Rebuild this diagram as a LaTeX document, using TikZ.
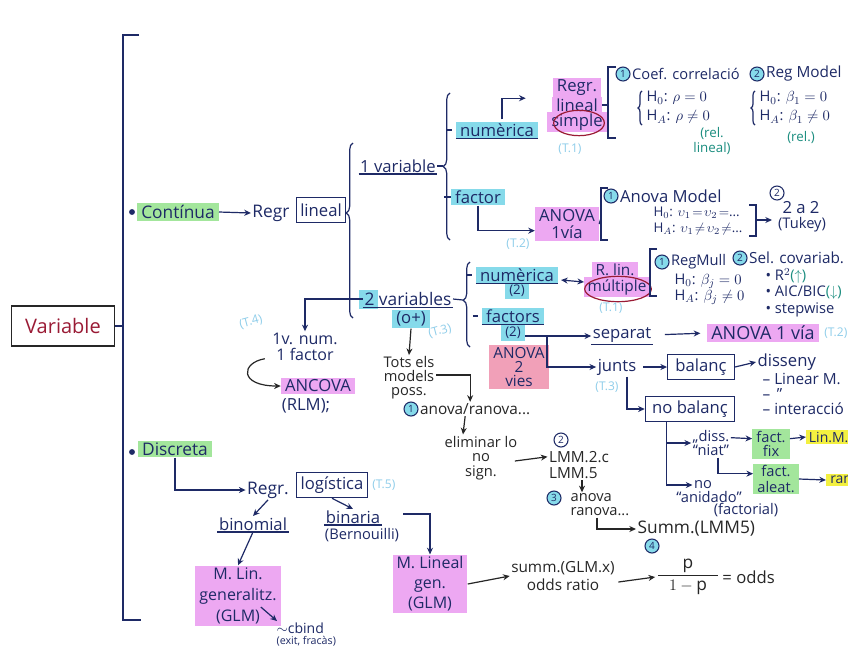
\documentclass[tikz,border=0pt]{standalone}
\usepackage{fontspec}
\setmainfont{Open Sans}
\usetikzlibrary{arrows.meta,shapes.geometric,calc,decorations.pathreplacing}
\definecolor{ink}{HTML}{1E2A66}
\definecolor{hlgreen}{HTML}{A3E69C}
\definecolor{hlcyan}{HTML}{86DAEA}
\definecolor{hlpink}{HTML}{EDA8F2}
\definecolor{hlred}{HTML}{F1A0B8}
\definecolor{hlyellow}{HTML}{F3F040}
\definecolor{tcyan}{HTML}{8ECDEA}
\definecolor{tealtx}{HTML}{1C8E80}
\definecolor{dred}{HTML}{9A1B35}
\tikzset{
  tx/.style={inner sep=1pt, text=ink, font=\fontsize{12.5}{13}\selectfont, align=center},
  tm/.style={tx, font=\fontsize{11}{12}\selectfont},
  tk/.style={text=black!85},
  tref/.style={inner sep=0pt, text=tcyan, font=\fontsize{9}{10}\selectfont},
  trel/.style={inner sep=0pt, text=tealtx, font=\fontsize{10}{11}\selectfont, align=center},
  ln/.style={draw=ink, line width=0.9pt},
  ar/.style={ln, -{Stealth[length=5pt,width=4.5pt]}},
  arb/.style={ar, draw=black!85},
  dar/.style={ln, {Stealth[length=5pt,width=4.5pt]}-{Stealth[length=5pt,width=4.5pt]}},
  boxed/.style={tx, draw=ink, line width=0.9pt, inner sep=3pt},
  hg/.style={fill=hlgreen, inner xsep=3pt, inner ysep=1.5pt},
  hc/.style={fill=hlcyan, inner xsep=3pt, inner ysep=1.5pt},
  hp/.style={fill=hlpink, inner xsep=3pt, inner ysep=1.5pt},
  hr/.style={fill=hlred, inner xsep=3pt, inner ysep=1.5pt},
  hy/.style={fill=hlyellow, inner xsep=3pt, inner ysep=1.5pt},
  ul/.style={append after command={(\tikzlastnode.south west) edge[draw=ink, line width=0.8pt] (\tikzlastnode.south east)}},
  num/.style={circle, draw=ink, line width=0.8pt, inner sep=0pt, minimum size=10.5pt, text=ink, font=\fontsize{7.5}{8}\selectfont},
  numc/.style={num, fill=hlcyan},
  brc/.style={ln, decorate, decoration={brace, amplitude=5pt}},
  oval/.style={ellipse, draw=dred, line width=0.9pt, inner sep=0pt},
}
\begin{document}
\begin{tikzpicture}[x=0.75pt,y=-0.75pt]
\fill[white] (0,0) rectangle (848,651);
\useasboundingbox (0,0) rectangle (848,651);

% ---------- root ----------
\coordinate (mtop) at (123,35);
\coordinate (mbot) at (123,620);
\draw[ln, line width=1.1pt] (139,35) -- (mtop) -- (mbot) -- (141,620);
\node[draw=black!85, line width=1pt, text=dred, font=\fontsize{15}{16}\selectfont, minimum width=77pt, minimum height=30pt] (var) at (63,326) {Variable};
\draw[ln] (var.east) -- (var.east -| mtop);

% ---------- Continua ----------
\fill[ink] (132,212) circle (2.2pt);
\node[tx, hg, font=\fontsize{13}{14}\selectfont] (cont) at (178,212) {Contínua};
\node[tx, font=\fontsize{13}{14}\selectfont] (regr) at (271,213) {Regr};
\node[boxed, minimum width=36pt, minimum height=19pt] (lineal) at (321,210) {lineal};
\draw[ar] (cont.east) -- (regr.west);
\draw[brc, decoration={aspect=0.6}] (353,318) -- (353,143);

% 1 variable
\node[tx, ul] (v1) at (398,166) {1 variable};
\draw[brc] (450,240) -- (450,93);
\coordinate (b2tip) at (443,166);
\draw[ln] (v1.east) -- (b2tip);

\node[tx, hc, ul] (n1) at (497,130) {numèrica};
\draw[ln] ($(n1.west)+(-9,0)$) -- ($(n1.west)+(-4,0)$);
\node[tx, hp] (rls1) at (577,88) {Regr.};
\node[tx, hp] (rls2) at (577,105) {lineal};
\node[tx, hp] (rls3) at (577,122) {simple};
\node[oval, minimum width=38pt, minimum height=19pt] (rlsc) at (579,123) {};
\draw[ar] ($(n1.north)+(5,-2)$) |- ($(rls1.south west)+(-27,0)$);
\node[tref] (t1a) at (570,149) {(T.1)};

\draw[ln] (616,67) -- (608,67) -- (608,138) -- (616,138);
\coordinate (k1) at (608,105);
\draw[ln] (rls2.east) -- (k1);
\node[numc] (c1n) at (623,74) {1};
\node[tm, anchor=west] (c1) at (c1n.east) {Coef. correlació};
\node[numc] (c2n) at (757,74) {2};
\node[tm, anchor=west, font=\fontsize{11.5}{12}\selectfont] (c2) at (c2n.east) {Reg Model};

\draw[brc, decoration={amplitude=3pt}] (642,125) -- (642,91);
\node[tm, anchor=west] (h10) at (645,98) {H$_0$: $\rho=0$};
\node[tm, anchor=west] (h1a) at (645,117) {H$_A$: $\rho\neq0$};
\node[trel] (rel1) at (712,141) {(rel.\\lineal)};
\draw[brc, decoration={amplitude=3pt}] (755,125) -- (755,91);
\node[tm, anchor=west] (h20) at (758,98) {H$_0$: $\beta_1=0$};
\node[tm, anchor=west] (h2a) at (758,117) {H$_A$: $\beta_1\neq0$};
\node[trel] (rel2) at (801,137) {(rel.)};

\node[tx, hc] (fac) at (478,197) {factor};
\draw[ln] ($(fac.west)+(-7,0)$) -- (fac.west);
\node[tx, hp, font=\fontsize{12.5}{13}\selectfont] (an1) at (567,224) {ANOVA\\1vía};
\draw[ar] (fac.south) |- ([yshift=-5pt]an1.west);
\node[tref] (t2a) at (518,244) {(T.2)};

\draw[ln] (608,188) -- (601,188) -- (601,240) -- (608,240);
\coordinate (k2) at (601,218);
\draw[ln] (an1.east) -- (k2);
\node[numc] (a1n) at (611,196) {1};
\node[tx, anchor=west] (am) at (a1n.east) {Anova Model};
\node[tm, anchor=west, font=\fontsize{10}{11}\selectfont] (ah0) at (652,213) {H$_0$: $\upsilon_1\!=\!\upsilon_2\!=$...};
\node[tm, anchor=west, font=\fontsize{10}{11}\selectfont] (aha) at (652,229) {H$_A$: $\upsilon_1\!\neq\!\upsilon_2\!\neq$...};
\draw[ln] (749,205) -- (756,205) -- (756,236) -- (749,236);
\coordinate (k2r) at (756,220);
\draw[ar] (k2r) -- ($(k2r)+(16,0)$);
\node[num] (tn) at (777,193) {2};
\node[tx] (tk1) at (801,208) {2 a 2};
\node[tm] (tk2) at (802,225) {(Tukey)};

% 2 variables
\fill[hlcyan] (359,290) rectangle (378,309);
\node[tx, ul, font=\fontsize{13}{14}\selectfont] (v2) at (408,299) {2 variables};
\node[tx, hc] (op) at (411,319) {(o+)};
\node[tref, rotate=15] (t3a) at (440,331) {(T.3)};
\node[tx, font=\fontsize{12}{12.5}\selectfont] (vf) at (305,347) {1v. num.\\1 factor};
\node[tref, rotate=15] (t4) at (251,322) {(T.4)};
\draw[ar] (v2.west) -| (vf.north);
\node[tx, hp] (anc) at (318,386) {ANCOVA};
\node[tx] (rlm) at (306,406) {(RLM);};
\draw[arb] ($(vf.south west)+(-6,-4)$) .. controls ($(vf.south west)+(-30,0)$) and ($(anc.west)+(-42,0)$) .. (anc.west);

\node[tx, tk, font=\fontsize{11}{10.5}\selectfont] (tots) at (409,378) {Tots els\\models\\poss.};
\draw[arb] (op.south) -- (tots.north);
\node[numc] (a0n) at (411,409) {1};
\node[tx, tk, anchor=west, font=\fontsize{11.5}{12}\selectfont] (an0) at (a0n.east) {anova/ranova...};
\draw[arb] ($(tots.east)+(0,-3)$) -| ($(an0.north)+(-5,0)$);
\node[tx, tk, font=\fontsize{11}{11}\selectfont] (elim) at (481,458) {eliminar lo\\no\\sign.};
\draw[arb] ($(an0.south)+(-10,0)$) -- ($(elim.north)+(-18,0)$);
\node[tx, tk, align=left, font=\fontsize{11.5}{12}\selectfont] (lmm) at (579,465) {LMM.2.c\\LMM.5};
\node[num] (lmmn) at (561,440) {2};
\draw[arb] ($(elim.east)+(-4,3)$) -- ($(lmm.north west)+(0,7)$);
\node[tx, tk, align=left, anchor=west, font=\fontsize{11}{10.5}\selectfont] (an3) at (569,505) {anova\\ranova...};
\node[numc] (a3n) at (554,498) {3};
\draw[arb] ($(lmm.south)+(3,0)$) -- ($(an3.north west)+(13,0)$);
\node[tx, tk, anchor=west, font=\fontsize{13}{14}\selectfont] (summ) at (636,529) {Summ.(LMM5)};
\draw[arb] ($(an3.south west)+(28,0)$) |- (summ.west);
\node[numc] (a4n) at (652,546) {4};

\draw[brc, decoration={aspect=0.55}] (470,347) -- (470,262);
\coordinate (b3tip) at (463,300);
\draw[ln] (v2.east) -- (b3tip);

\node[tx, hc, font=\fontsize{10}{11}\selectfont] (n2b) at (517,291) {(2)};
\node[tx, hc, ul] (n2) at (517,275) {numèrica};
\draw[ln] ($(n2.west)+(-9,0)$) -- ($(n2.west)+(-4,0)$);
\node[tx, hp, font=\fontsize{11.5}{12}\selectfont] (rlm1) at (615,270) {R. lin.};
\node[tx, hp, font=\fontsize{11.5}{12}\selectfont] (rlm2) at (617,287) {múltiple};
\node[oval, minimum width=50pt, minimum height=19pt] (rlmc) at (618,289) {};
\draw[dar] ($(n2.east)+(3,5)$) -- ($(rlmc.west)+(0,-7)$);
\node[tref] (t1b) at (611,308) {(T.1)};
\draw[ln] (657,249) -- (650,249) -- (650,296) -- (657,296);
\node[numc] (r1n) at (662,262) {1};
\node[tm, anchor=west] (rm) at (r1n.east) {RegMull};
\node[tm, anchor=west] (rh0) at (673,281) {H$_0$: $\beta_j=0$};
\node[tm, anchor=west] (rha) at (673,297) {H$_A$: $\beta_j\neq0$};
\node[numc] (s2n) at (740,258) {2};
\node[tm, anchor=west, font=\fontsize{11.5}{12}\selectfont] (sel) at (s2n.east) {Sel. covariab.};
\node[tm, anchor=west] (r2) at (764,276) {• R$^2$\textcolor{tealtx}{($\uparrow$)}};
\node[tm, anchor=west] (aic) at (764,293) {• AIC/BIC\textcolor{tealtx}{($\downarrow$)}};
\node[tm, anchor=west] (stw) at (764,310) {• stepwise};

\node[tx, hc, font=\fontsize{10}{11}\selectfont] (n3b) at (513,333) {(2)};
\node[tx, hc, ul] (n3) at (513,316) {factors};
\draw[ln] ($(n3.west)+(-9,0)$) -- ($(n3.west)+(-4,0)$);
\node[tx, hr, font=\fontsize{11.5}{10.5}\selectfont] (an2) at (519,367) {ANOVA\\2\\vies};
\node[tx, ul] (sep) at (622,335) {separat};
\draw[ar] ($(n3b.east)+(0,3)$) -- ($(sep.west)+(0,1)$);
\coordinate (fj) at ($(n3b.east)+(22,3)$);
\node[tx] (junts) at (617,367) {junts};
\draw[ar] (fj) |- (junts.west);
\node[tref] (t3b) at (607,387) {(T.3)};
\node[tx, hp, font=\fontsize{13.5}{14}\selectfont] (av) at (763,333) {ANOVA 1 vía};
\node[tref, anchor=west] (t2b) at (824,333) {(T.2)};
\draw[ar, shorten <=9pt, shorten >=5pt] (sep.east) -- (av.west);
\node[boxed, minimum width=50pt, minimum height=19pt] (bal) at (701,367) {balanç};
\draw[ar, shorten <=4pt] (junts.east) -- (bal.west);
\node[tx, anchor=west] (dis) at (756,362) {disseny};
\draw[ar] (bal.east) -- (dis.west);
\node[tx, anchor=north west, align=left, font=\fontsize{11.5}{11.25}\selectfont] (dl) at (761,372) {– Linear M.\\– \,''\\– interacció};
\node[boxed, minimum width=67pt, minimum height=19pt] (nb) at (690,409) {no balanç};
\draw[ar] ($(junts.south)+(10,0)$) |- (nb.west);

\node[tm, font=\fontsize{11}{11}\selectfont] (diss) at (711,443) {„diss.\\“niat”};
\node[tm, font=\fontsize{11}{11}\selectfont] (no1) at (703,485) {no};
\node[tm, font=\fontsize{11}{11}\selectfont] (no2) at (709,497) {“anidado”};
\node[tm, font=\fontsize{11}{11}\selectfont] (no3) at (746,510) {(factorial)};
\draw[ar] ($(nb.south west)+(22,0)$) |- (diss.west);
\draw[ar] ($(nb.south west)+(22,0)$) |- (no1.west);
\node[tx, hg, font=\fontsize{11}{11}\selectfont] (ffix) at (771,444) {fact.\\fix};
\draw[ar] ([yshift=4pt]diss.east) -- ([yshift=4pt]ffix.west);
\node[tx, hy, anchor=west, font=\fontsize{10.5}{12}\selectfont, inner xsep=2pt] (linm) at (806,437) {Lin.M.};
\draw[ar] ([yshift=4pt]ffix.east) -- (linm.west);
\node[tx, hg, font=\fontsize{11}{11.5}\selectfont] (fal) at (776,479) {fact.\\aleat.};
\draw[ar] ($(diss.south)+(7,0)$) |- ([yshift=4pt]fal.west);
\node[tx, hy, anchor=west, font=\fontsize{10.5}{12}\selectfont] (rnv) at (826,480) {ranova};
\draw[ar] (fal.east) -- (rnv.west);

% ---------- Discreta ----------
\fill[ink] (132,452) circle (2.2pt);
\node[tx, hg, font=\fontsize{13}{14}\selectfont] (disc) at (175,449) {Discreta};
\node[tx, font=\fontsize{13}{14}\selectfont] (regl) at (268,490) {Regr.};
\node[boxed, minimum width=52pt, minimum height=19pt] (logi) at (332,485) {logística};
\node[tref, anchor=west] (t5) at (372,485) {(T.5)};
\draw[ar] (disc.south) |- (regl.west);
\node[tx, ul] (binom) at (253,524) {binomial};
\node[tx, ul] (bin) at (353,517) {binaria};
\node[tm] (bern) at (362,535) {(Bernouilli)};
\draw[ar] (regl.south) -- (binom.north);
\draw[ar] (logi.south) -- (bin.north);
\node[tx, hp, font=\fontsize{12}{16}\selectfont] (mlg) at (238,596) {M. Lin.\\generalitz.\\(GLM)};
\draw[ar] (binom.south) -- (mlg.north);
\node[tx, anchor=west, font=\fontsize{10.5}{11}\selectfont] (cb1) at (275,628) {$\sim$cbind};
\node[tx, anchor=west, font=\fontsize{8}{9}\selectfont] (cb2) at (275,641) {(exit, fracàs)};
\draw[ar] ($(mlg.east)+(-20,11)$) -- ($(cb1.north west)+(2,0)$);
\node[tx, hp, font=\fontsize{12}{15}\selectfont] (mlg2) at (430,584) {M. Lineal\\gen.\\(GLM)};
\draw[ar, shorten <=16pt] ($(bin.east)+(0,-3)$) -| (mlg2.north);
\node[tx, tk, font=\fontsize{11.5}{13.5}\selectfont] (sm2) at (563,576) {summ.(GLM.x)\\odds ratio};
\draw[arb] (mlg2.east) -- (sm2.west);
\node[tx, tk, font=\fontsize{13}{15}\selectfont] (frac) at (688,577) {$\displaystyle\frac{\mathrm{p}}{\hspace{8pt}1-\mathrm{p}\hspace{8pt}}$};
\draw[arb] ($(sm2.east)+(2,6)$) -- (frac.west);
\node[tx, tk, anchor=west] (odds) at (frac.east) {= odds};
\end{tikzpicture}
\end{document}
